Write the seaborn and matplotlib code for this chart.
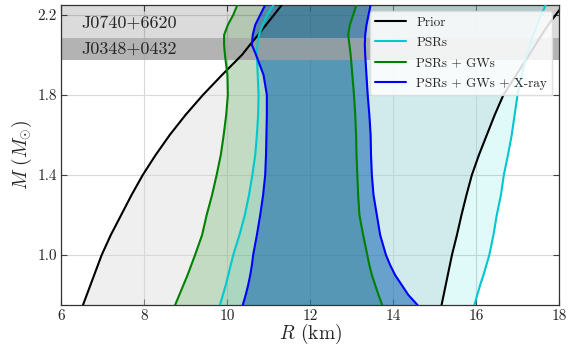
import numpy as np
import pandas as pd
import matplotlib
matplotlib.use("Agg")
import matplotlib.pyplot as plt
import seaborn as sns

# Mass grid (solar masses)
mass = [0.75, 0.80, 0.85, 0.90, 0.95, 1.00, 1.10, 1.20, 1.30, 1.40, 1.50,
        1.60, 1.70, 1.80, 1.90, 2.00, 2.05, 2.10, 2.15, 2.20, 2.25]

# Radius boundaries (km) of each credible band
prior_lo = [6.53, 6.62, 6.71, 6.80, 6.89, 6.98, 7.20, 7.45, 7.70, 7.97, 8.28,
            8.62, 9.00, 9.42, 9.88, 10.36, 10.55, 10.75, 10.94, 11.13, 11.32]
prior_hi = [15.17, 15.22, 15.27, 15.32, 15.37, 15.42, 15.54, 15.65, 15.77, 15.90, 16.07,
            16.26, 16.45, 16.66, 16.97, 17.28, 17.43, 17.58, 17.74, 17.92, 18.10]
psr_lo = [9.83, 9.90, 9.97, 10.03, 10.09, 10.15, 10.30, 10.43, 10.53, 10.61, 10.68,
          10.72, 10.75, 10.76, 10.74, 10.72, 10.73, 10.77, 10.86, 10.97, 11.12]
psr_hi = [15.96, 16.03, 16.10, 16.18, 16.25, 16.32, 16.42, 16.50, 16.60, 16.67, 16.77,
          16.86, 16.93, 17.00, 17.10, 17.22, 17.30, 17.38, 17.47, 17.57, 17.68]
gw_lo = [8.75, 8.85, 8.95, 9.05, 9.14, 9.23, 9.40, 9.51, 9.64, 9.75, 9.85,
         9.92, 9.98, 10.02, 10.01, 9.95, 9.93, 9.93, 10.02, 10.15, 10.25]
gw_hi = [13.74, 13.65, 13.57, 13.49, 13.43, 13.38, 13.28, 13.19, 13.16, 13.14, 13.12,
         13.11, 13.09, 13.06, 13.02, 12.98, 12.95, 12.92, 12.96, 13.04, 13.12]
xr_lo = [10.38, 10.45, 10.51, 10.56, 10.60, 10.63, 10.72, 10.80, 10.87, 10.92, 10.94,
         10.95, 10.96, 10.96, 10.88, 10.70, 10.60, 10.62, 10.68, 10.80, 10.92]
xr_hi = [14.59, 14.37, 14.21, 14.05, 13.93, 13.83, 13.69, 13.61, 13.53, 13.49, 13.47,
         13.46, 13.43, 13.39, 13.36, 13.33, 13.32, 13.33, 13.36, 13.41, 13.46]

labels = ["Prior", "PSRs", "PSRs + GWs", "PSRs + GWs + X-ray"]
line_colors = ["black", "#00c8cc", "green", "blue"]
fill_colors = ["#d8d8d8", "#00ced1", "#008000", "#005aac"]
fill_alphas = [0.40, 0.12, 0.18, 0.50]

pulsars = ["J0740+6620", "J0348+0432"]
pulsar_bands = [(2.085, 2.30), (1.975, 2.085)]
band_colors = ["black", "#a0a0a0"]
band_alphas = [0.14, 0.80]

sns.set_style("ticks")
plt.rcParams["font.family"] = ["cmr10", "DejaVu Serif"]
plt.rcParams["mathtext.fontset"] = "cm"
plt.rcParams["axes.formatter.use_mathtext"] = True

fig = plt.figure(figsize=(5.68, 3.48), dpi=100)
ax = fig.add_axes([0.1074, 0.1236, 0.8768, 0.8634])

bounds = [(prior_lo, prior_hi), (psr_lo, psr_hi), (gw_lo, gw_hi), (xr_lo, xr_hi)]
rows = []
for lab, (lo, hi) in zip(labels, bounds):
    for m, r in zip(mass, lo):
        rows.append({"label": lab, "side": "lo", "M": m, "R": r})
    for m, r in zip(mass, hi):
        rows.append({"label": lab, "side": "hi", "M": m, "R": r})
df = pd.DataFrame(rows)

for lab, (lo, hi), fc, fa in zip(labels, bounds, fill_colors, fill_alphas):
    ax.fill_betweenx(mass, lo, hi, color=fc, alpha=fa, lw=0, zorder=1)

for (lo_b, hi_b), bc, a in zip(pulsar_bands, band_colors, band_alphas):
    ax.axhspan(lo_b, hi_b, color=bc, alpha=a, lw=0, zorder=2)

for lab, lc in zip(labels, line_colors):
    for side in ["lo", "hi"]:
        sub = df[(df.label == lab) & (df.side == side)]
        sns.lineplot(data=sub, x="R", y="M", sort=False, estimator=None,
                     color=lc, lw=1.5, ax=ax, zorder=3,
                     label=lab if side == "lo" else None)

ax.text(6.5, 2.16, pulsars[0], fontsize=13, va="center", ha="left", zorder=4)
ax.text(6.5, 2.03, pulsars[1], fontsize=13, va="center", ha="left", zorder=4)

ax.set_xlim(6, 18)
ax.set_ylim(0.75, 2.252)
ax.set_xticks([6, 8, 10, 12, 14, 16, 18])
ax.set_yticks([1.0, 1.4, 1.8, 2.2])
ax.set_xticklabels(["6", "8", "10", "12", "14", "16", "18"])
ax.set_yticklabels(["1.0", "1.4", "1.8", "2.2"])
ax.grid(True, color="#d9d9d9", lw=0.8, zorder=0)
ax.set_axisbelow(True)
ax.tick_params(direction="in", top=True, right=True, labelsize=11, color="#444444",
               length=4, width=0.8, pad=3)
for s in ax.spines.values():
    s.set_color("#333333")
    s.set_linewidth(0.9)
ax.set_xlabel(r"$R$ (km)", fontsize=14, labelpad=-1)
ax.set_ylabel(r"$M\ (M_{\odot})$", fontsize=14, labelpad=2)

leg = ax.legend(loc="upper right", fontsize=9.5, handlelength=2.3, framealpha=0.85,
                edgecolor="#dddddd", borderaxespad=0.5, labelspacing=0.62)
leg.set_zorder(5)

fig.savefig("out.png", dpi=100)
